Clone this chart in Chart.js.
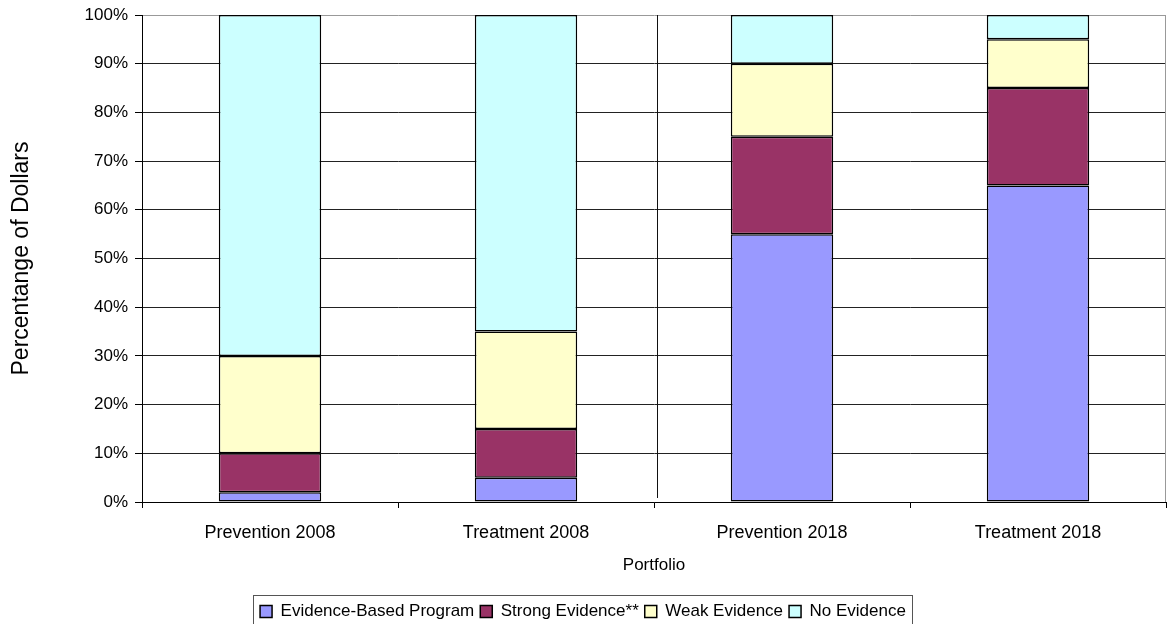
<!DOCTYPE html>
<html>
<head>
<meta charset="utf-8">
<script src="https://cdn.jsdelivr.net/npm/chart.js@4/dist/chart.umd.min.js"></script>
<style>
  html, body { margin: 0; padding: 0; background: #fff; overflow: hidden; }
  #wrap { width: 1169px; height: 630px; position: relative; }
</style>
</head>
<body>
<div id="wrap"><canvas id="chart"></canvas></div>
<script>
const portfolios = ['Prevention 2008', 'Treatment 2008', 'Prevention 2018', 'Treatment 2018'];
const seriesNames = ['Evidence-Based Program', 'Strong Evidence**', 'Weak Evidence', 'No Evidence'];
const evidenceBased = [2, 5, 55, 65];
const strongEvidence = [8, 10, 20, 20];
const weakEvidence = [20, 20, 15, 10];
const noEvidence = [70, 65, 10, 5];
const seriesColors = ['#9999ff', '#993366', '#ffffcc', '#ccffff'];
const yTicks = [0, 10, 20, 30, 40, 50, 60, 70, 80, 90, 100];

const FONT = "'Liberation Sans', Arial, sans-serif";

// frame bits that Excel drew: grey right edge, legend box, stray divider line
const framePlugin = {
  id: 'frame',
  afterDraw(chart) {
    const { ctx, chartArea, scales } = chart;
    ctx.save();
    ctx.strokeStyle = '#999';
    ctx.lineWidth = 1;
    ctx.beginPath();
    ctx.moveTo(Math.round(chartArea.right) - 0.5, chartArea.top);
    ctx.lineTo(Math.round(chartArea.right) - 0.5, chartArea.bottom);
    ctx.stroke();

    const x = scales.x;
    const divX = Math.round((x.getPixelForValue(1) + x.getPixelForValue(2)) / 2) + 3.5;
    ctx.strokeStyle = '#111';
    ctx.beginPath();
    ctx.moveTo(divX, chartArea.top);
    ctx.lineTo(divX, chartArea.bottom - 4);
    ctx.stroke();

    const boxes = chart.legend.legendHitBoxes;
    if (boxes && boxes.length) {
      const left = Math.min(...boxes.map(b => b.left)) - 7;
      const right = Math.max(...boxes.map(b => b.left + b.width)) + 6;
      const top = Math.min(...boxes.map(b => b.top)) - 8;
      ctx.strokeStyle = '#555';
      ctx.strokeRect(Math.round(left) + 0.5, Math.round(top) + 0.5, Math.round(right - left), 40);
    }
    ctx.restore();
  }
};

const values = [evidenceBased, strongEvidence, weakEvidence, noEvidence];
const datasets = seriesNames.map((name, i) => ({
  label: name,
  data: values[i],
  backgroundColor: seriesColors[i],
  borderColor: '#000',
  borderWidth: 1.5,
  borderSkipped: false,
  barPercentage: 0.4,
  categoryPercentage: 1
}));

new Chart(document.getElementById('chart'), {
  type: 'bar',
  data: { labels: portfolios, datasets },
  plugins: [framePlugin],
  options: {
    responsive: true,
    maintainAspectRatio: false,
    animation: false,
    layout: { padding: { top: 15, right: 3, left: 0, bottom: 0 } },
    plugins: {
      tooltip: { enabled: false },
      legend: {
        position: 'bottom',
        labels: {
          font: { family: FONT, size: 17 },
          color: '#000',
          boxWidth: 12,
          boxHeight: 12,
          padding: 6,
          useBorderRadius: false
        }
      }
    },
    scales: {
      x: {
        stacked: true,
        grid: {
          display: true,
          offset: true,
          drawOnChartArea: false,
          color: '#000',
          tickLength: 6
        },
        border: { color: '#000' },
        ticks: {
          color: '#000',
          font: { family: FONT, size: 18 },
          padding: 14,
          maxRotation: 0
        },
        title: {
          display: true,
          text: 'Portfolio',
          color: '#000',
          font: { family: FONT, size: 17 },
          padding: { top: 8, bottom: 21 }
        },
        afterFit(scale) { scale.height = 95; }
      },
      y: {
        stacked: true,
        min: 0,
        max: 100,
        afterBuildTicks(scale) { scale.ticks = yTicks.map(v => ({ value: v })); },
        grid: {
          color: ctx => (ctx.tick && ctx.tick.value === 100 ? '#999' : '#222'),
          tickLength: 7,
          tickColor: '#000'
        },
        border: { color: '#000' },
        ticks: {
          color: '#000',
          font: { family: FONT, size: 17 },
          padding: 7,
          callback: v => v + '%'
        },
        title: {
          display: true,
          text: 'Percentange of Dollars',
          color: '#000',
          font: { family: FONT, size: 23 },
          padding: { top: 8, bottom: 0 }
        },
        afterFit(scale) {
          scale.width = 142;
          scale.paddingTop = 0;
          scale.paddingBottom = 0;
        }
      }
    }
  }
});
</script>
</body>
</html>
